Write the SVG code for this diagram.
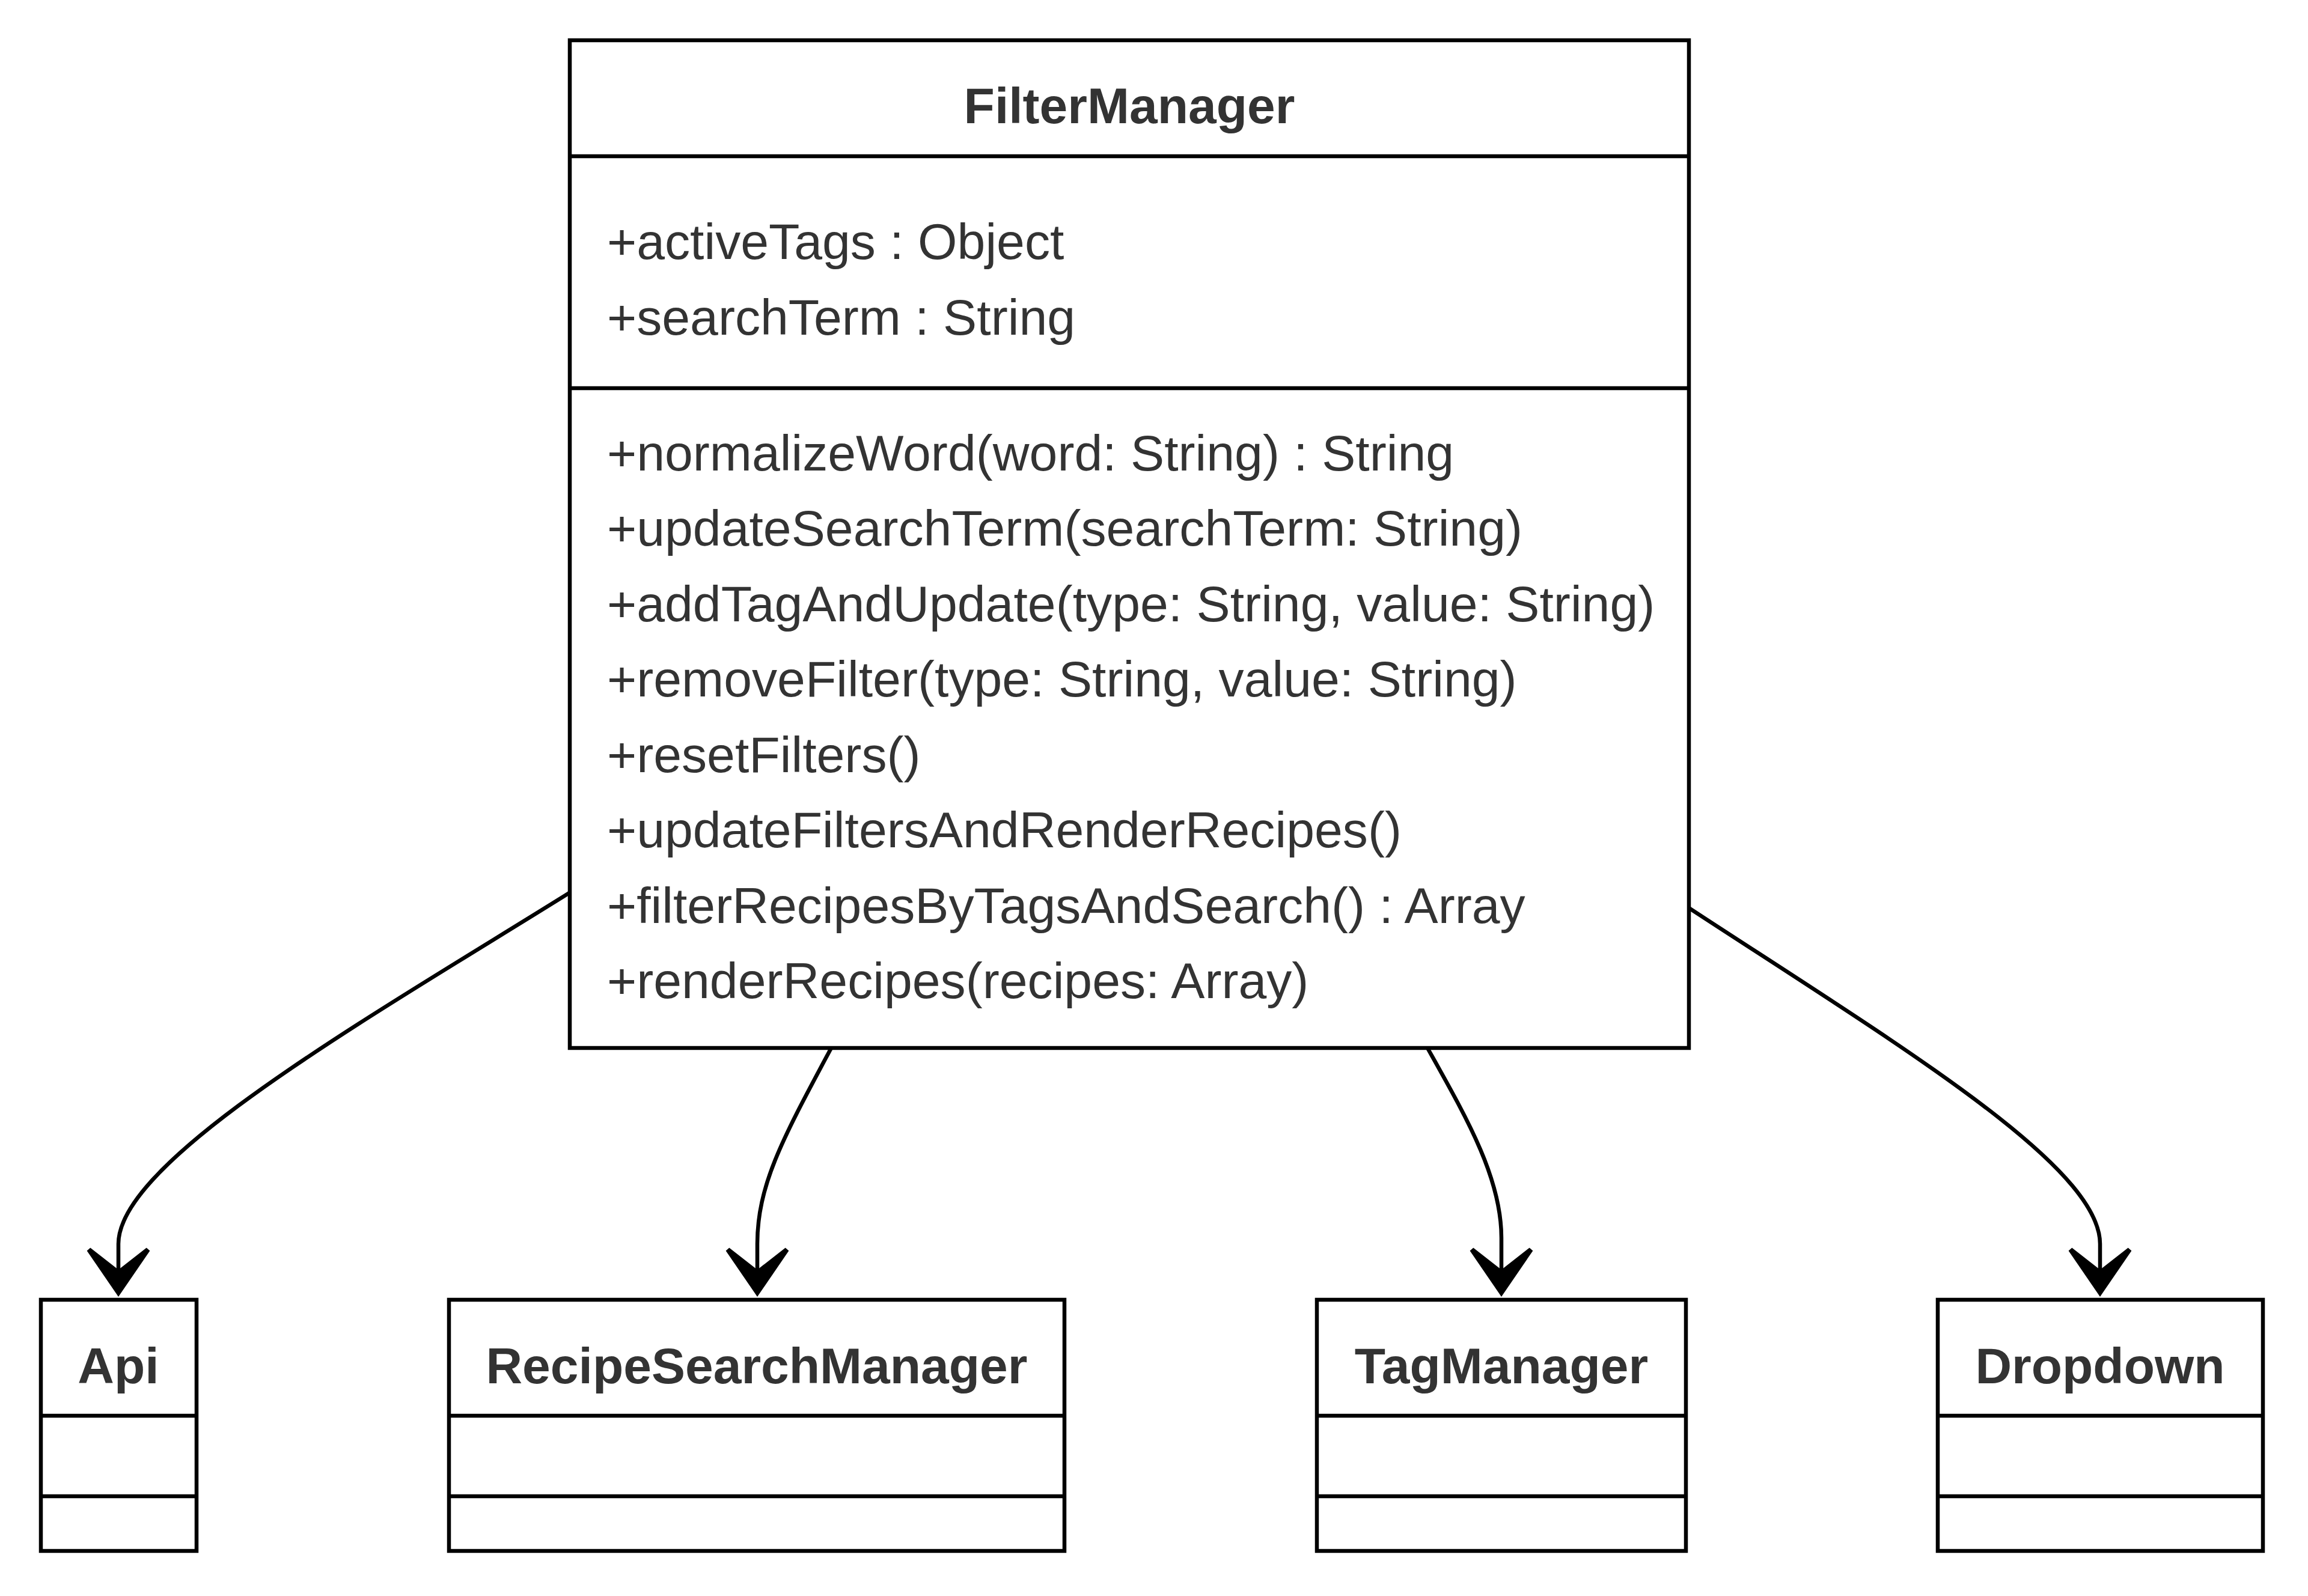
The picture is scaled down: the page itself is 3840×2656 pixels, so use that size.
<svg xmlns="http://www.w3.org/2000/svg" width="3840" height="2656" viewBox="0 0 3840 2656">
<style>
.box{fill:#ffffff;stroke:#000000;stroke-width:6.5}
.div{stroke:#000000;stroke-width:6.5}
.title{font-family:"Liberation Sans",Arial,sans-serif;font-weight:bold;font-size:84px;fill:#333333;text-anchor:middle}
.mem{font-family:"Liberation Sans",Arial,sans-serif;font-size:84.2px;fill:#333333}
.edge{fill:none;stroke:#000000;stroke-width:6.5}
</style>
<defs>
<marker id="dep" markerUnits="userSpaceOnUse" viewBox="-90 -60 100 120" markerWidth="100" markerHeight="120" refX="-45" refY="0" orient="auto" overflow="visible">
<path d="M0,0 L-76.6,52.4 L-81.6,46.7 L-45,0 L-81.6,-46.7 L-76.6,-52.4 Z" fill="#000000"/>
</marker>
</defs>
<rect width="3840" height="2656" fill="#ffffff"/>
<g id="connectors">
<path class="edge" d="M947,1486 C620,1690 197,1930 197,2070 L197,2113" marker-end="url(#dep)"/>
<path class="edge" d="M1383,1744 C1305,1890 1260,1970 1260,2070 L1260,2113" marker-end="url(#dep)"/>
<path class="edge" d="M2375,1744 C2440,1860 2498,1960 2498,2060 L2498,2113" marker-end="url(#dep)"/>
<path class="edge" d="M2810,1511 C3160,1740 3494,1940 3494,2070 L3494,2113" marker-end="url(#dep)"/>
</g>
<g id="FilterManager">
<rect class="box" x="948" y="67" width="1862" height="1677"/>
<line class="div" x1="948" y1="260" x2="2810" y2="260"/>
<line class="div" x1="948" y1="646" x2="2810" y2="646"/>
<text class="title" x="1879" y="205">FilterManager</text>
<text class="mem" x="1010" y="431">+activeTags : Object</text>
<text class="mem" x="1010" y="557">+searchTerm : String</text>
<text class="mem" x="1010" y="783">+normalizeWord(word: String) : String</text>
<text class="mem" x="1010" y="908">+updateSearchTerm(searchTerm: String)</text>
<text class="mem" x="1010" y="1034">+addTagAndUpdate(type: String, value: String)</text>
<text class="mem" x="1010" y="1159">+removeFilter(type: String, value: String)</text>
<text class="mem" x="1010" y="1285">+resetFilters()</text>
<text class="mem" x="1010" y="1410">+updateFiltersAndRenderRecipes()</text>
<text class="mem" x="1010" y="1536">+filterRecipesByTagsAndSearch() : Array</text>
<text class="mem" x="1010" y="1661">+renderRecipes(recipes: Array)</text>
</g>
<g id="Api">
<rect class="box" x="68" y="2163" width="259" height="418"/>
<line class="div" x1="68" y1="2356" x2="327" y2="2356"/>
<line class="div" x1="68" y1="2490" x2="327" y2="2490"/>
<text class="title" x="197" y="2302">Api</text>
</g>
<g id="RecipeSearchManager">
<rect class="box" x="747" y="2163" width="1024" height="418"/>
<line class="div" x1="747" y1="2356" x2="1771" y2="2356"/>
<line class="div" x1="747" y1="2490" x2="1771" y2="2490"/>
<text class="title" x="1259" y="2302">RecipeSearchManager</text>
</g>
<g id="TagManager">
<rect class="box" x="2191" y="2163" width="614" height="418"/>
<line class="div" x1="2191" y1="2356" x2="2805" y2="2356"/>
<line class="div" x1="2191" y1="2490" x2="2805" y2="2490"/>
<text class="title" x="2498" y="2302">TagManager</text>
</g>
<g id="Dropdown">
<rect class="box" x="3224" y="2163" width="541" height="418"/>
<line class="div" x1="3224" y1="2356" x2="3765" y2="2356"/>
<line class="div" x1="3224" y1="2490" x2="3765" y2="2490"/>
<text class="title" x="3494" y="2302">Dropdown</text>
</g>
</svg>
